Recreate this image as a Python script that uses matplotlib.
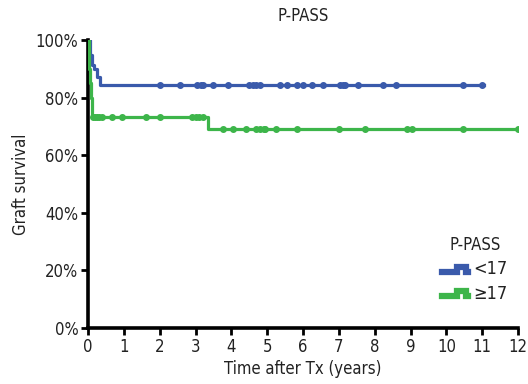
import matplotlib
matplotlib.use("Agg")
import matplotlib.pyplot as plt
import numpy as np
from matplotlib.legend_handler import HandlerBase
from matplotlib.lines import Line2D

plt.rcParams['font.family'] = ['Liberation Sans Narrow', 'DejaVu Sans']
plt.rcParams['font.stretch'] = 'condensed'

# Kaplan-Meier step data (years, % survival)
blue_t = [0, 0.05, 0.10, 0.17, 0.25, 0.34, 11.05]
blue_s = [100, 94.8, 91.3, 90.0, 87.2, 84.4, 84.4]
blue_cens = [2.0, 2.57, 3.05, 3.15, 3.2, 3.5, 3.9, 4.5, 4.6, 4.7, 4.8, 5.36, 5.55,
             5.83, 6.0, 6.25, 6.55, 7.04, 7.12, 7.18, 7.54, 8.24, 8.6, 10.45, 11.0]

green_t = [0, 0.02, 0.04, 0.06, 0.08, 0.10, 0.12, 3.35, 12.0]
green_s = [100, 96, 90, 85, 80, 76, 73.2, 69.0, 69.0]
green_cens = [0.15, 0.2, 0.25, 0.3, 0.4, 0.66, 0.94, 1.62, 2.0, 2.9, 3.0, 3.1, 3.2,
              3.77, 4.05, 4.4, 4.7, 4.8, 4.9, 4.95, 5.24, 5.83, 7.0, 7.74, 8.9, 9.05,
              10.45, 12.0]

labels = ['<17', '≥17']
colors = ['#3a5aab', '#3db54a']
xticks = list(range(0, 13))
yticks = [0, 20, 40, 60, 80, 100]


def surv_at(t, times, surv):
    idx = np.searchsorted(times, t, side='right') - 1
    return np.array(surv)[idx]


class StepHandler(HandlerBase):
    def create_artists(self, legend, orig_handle, xd, yd, width, height, fontsize, trans):
        w, h = width, height
        xs = [-xd, -xd + 0.55 * w, -xd + 0.55 * w, -xd + 0.92 * w, -xd + 0.92 * w, -xd + w]
        ys = [0.2 * h, 0.2 * h, 0.6 * h, 0.6 * h, 0.2 * h, 0.2 * h]
        ln = Line2D(xs, ys, color=orig_handle.get_color(), lw=4.5,
                    solid_joinstyle='miter', transform=trans)
        return [ln]


fig = plt.figure(figsize=(5.28, 3.84), dpi=100)
ax = fig.add_axes([0.1667, 0.1458, 0.8145, 0.750])

handles = []
for t, s, c, col in [(blue_t, blue_s, blue_cens, colors[0]),
                     (green_t, green_s, green_cens, colors[1])]:
    h, = ax.step(t, s, where='post', color=col, lw=2.3, zorder=3)
    ax.plot(c, surv_at(c, t, s), 'o', color=col, ms=4, zorder=3)
    handles.append(h)

ax.set_xlim(0, 12)
ax.set_ylim(0, 100)
ax.set_xticks(xticks)
ax.set_yticks(yticks)
ax.set_yticklabels([f'{v}%' for v in yticks])
for sp in ['top', 'right']:
    ax.spines[sp].set_visible(False)
for sp in ['left', 'bottom']:
    ax.spines[sp].set_linewidth(2.6)
    ax.spines[sp].set_zorder(2)
ax.tick_params(axis='both', direction='out', length=5, width=2, labelsize=12,
               pad=2, colors='black', labelcolor='#222222')

ax.set_xlabel('Time after Tx (years)', fontsize=12, labelpad=3, color='#222222')
ax.set_ylabel('Graft survival', fontsize=12, labelpad=4, color='#222222')
ax.set_title('P-PASS', fontsize=12, pad=14, color='#222222')

leg = ax.legend(handles, labels, title='P-PASS', handler_map={Line2D: StepHandler()},
                loc='lower right', bbox_to_anchor=(1.0, 0.05), frameon=False,
                fontsize=13, title_fontsize=12, handlelength=1.45,
                handletextpad=0.25, labelspacing=0.35, borderaxespad=0.2)
for txt in leg.get_texts():
    txt.set_color('#222222')
leg.get_title().set_color('#222222')

fig.savefig('out.png', dpi=100)
